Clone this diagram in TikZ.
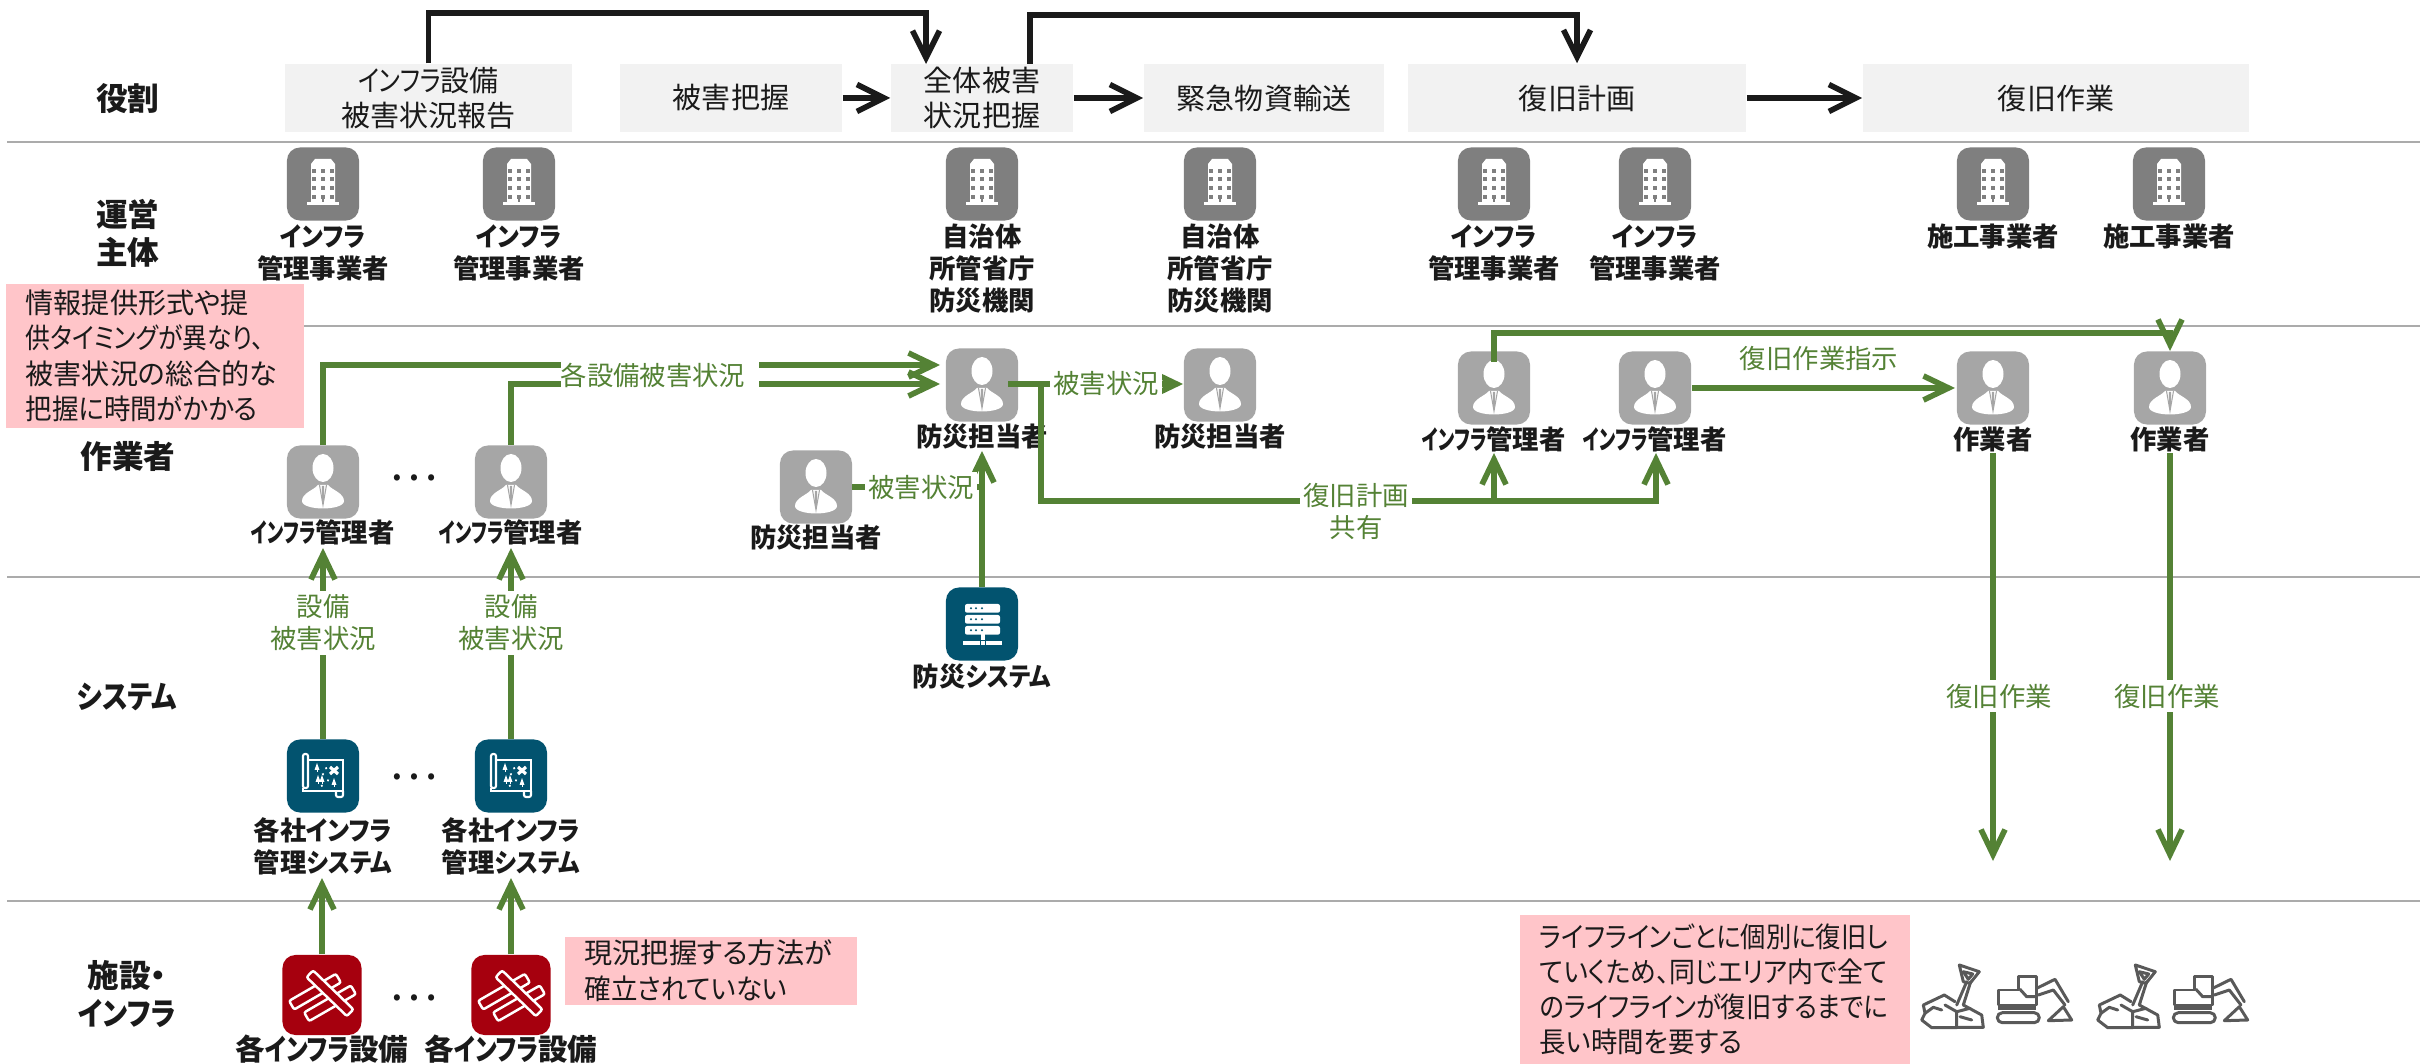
\documentclass[tikz,border=0pt]{standalone}
\usepackage{fontspec}
\setmainfont{Noto Sans CJK JP}[RawFeature=+palt]
\usetikzlibrary{arrows.meta}

% Narrower setting for kana runs
\newcommand{\kana}[2][0.86]{{\addfontfeature{FakeStretch=#1}#2}}

\definecolor{rolegray}{HTML}{F2F2F2}
\definecolor{rulegray}{HTML}{ABABAB}
\definecolor{buildgray}{HTML}{7F7F7F}
\definecolor{persongray}{HTML}{A6A6A6}
\definecolor{teal}{HTML}{02536F}
\definecolor{infrared}{HTML}{A6000E}
\definecolor{notepink}{HTML}{FFC5C9}
\definecolor{flowgreen}{HTML}{548235}
\definecolor{inkblack}{HTML}{1A1A1A}
\definecolor{machinegray}{HTML}{595959}

\tikzset{
    rowrule/.style={rulegray, line width=0.6pt},
    rowtitle/.style={font=\fontsize{9}{10.8}\selectfont\bfseries, text=inkblack, align=center, inner sep=0pt},
    rolebox/.style={fill=rolegray, text=inkblack, font=\fontsize{8.25}{10}\selectfont, align=center, inner sep=0pt, minimum height=0.68cm},
    iconbox/.style={rounded corners=0.13cm, minimum width=0.72cm, minimum height=0.73cm, inner sep=0pt},
    buildingbox/.style={iconbox, fill=buildgray},
    personbox/.style={iconbox, fill=persongray},
    systembox/.style={iconbox, fill=teal},
    assetbox/.style={iconbox, fill=infrared, minimum width=0.79cm, minimum height=0.80cm},
    iconlabel/.style={font=\fontsize{7.5}{9.1}\selectfont\bfseries, text=inkblack, align=center, inner sep=0pt},
    assetlabel/.style={font=\fontsize{8.4}{9.1}\selectfont\bfseries, text=inkblack, align=center, inner sep=0pt},
    flowlabel/.style={font=\fontsize{7.5}{9.1}\selectfont, text=flowgreen, align=center, fill=white, inner sep=1pt},
    notebox/.style={fill=notepink, text=inkblack, font=\fontsize{8}{10}\selectfont, align=left, anchor=north west, inner ysep=0pt, inner xsep=0.2cm},
    dotsmark/.style={font=\fontsize{13}{13}\selectfont, text=inkblack, inner sep=0pt},
    rolearrow/.style={inkblack, line width=1.6pt, -{Straight Barb[length=0.27cm, width=0.27cm]}},
    flowline/.style={flowgreen, line width=1.6pt},
    flowarrow/.style={flowline, -{Straight Barb[length=0.25cm, width=0.24cm]}},
    % White glyphs that sit on the rounded icon squares
    buildingglyph/.pic={
        \fill[white] (-12,20) -- (-12,-20) -- (-8,-25) -- (8,-25) -- (12,-20) -- (12,20) -- cycle;
        \fill[white] (-16,18) rectangle (16,21);
        \foreach \wy in {-13,-5,4,13} {
            \foreach \wx in {-9,0,9} {
                \fill[buildgray] (\wx-1.6,\wy-1.6) rectangle (\wx+1.6,\wy+1.6);
            }
        }
        \fill[buildgray] (-1.4,11) rectangle (1.4,18);
    },
    personglyph/.pic={
        \fill[white] (0,-14) ellipse (10.5 and 14);
        \fill[white] (-5,3) .. controls (-9,8) and (-21,11) .. (-21,19) .. controls (-21,24) and (-10,26.5) .. (0,26.5)
            .. controls (10,26.5) and (21,24) .. (21,19) .. controls (21,11) and (9,8) .. (5,3) -- cycle;
        \draw[persongray, line width=0.3pt] (-3.5,3) -- (0,23) -- (3.5,3);
        \fill[persongray] (-1.2,4) -- (1.2,4) -- (0.8,18) -- (0,21) -- (-0.8,18) -- cycle;
    },
    mapglyph/.pic={
        \draw[white, line width=0.6pt, rounded corners=0.02cm] (-20,-22) rectangle (-15,12);
        \draw[white, line width=0.6pt] (-15,-16) -- (20,-16) -- (20,15) -- (-20,15) -- (-20,12);
        \draw[white, line width=0.6pt, rounded corners=0.02cm] (13,15) -- (13,21) -- (20,21) -- (20,15);
        \foreach \tx/\ty in {-6/-9, -5/3, -1/3, 11/6} {
            \fill[white] (\tx-2.5,\ty+3) -- (\tx,\ty-4) -- (\tx+2.5,\ty+3) -- cycle;
            \fill[white] (\tx-0.5,\ty+3) rectangle (\tx+0.5,\ty+5);
        }
        \draw[white, line width=0.9pt] (7,-9) -- (15,-2) (15,-9) -- (7,-2);
        \draw[white, line width=0.5pt, dotted] (4,-8) .. controls (-4,-6) and (-2,-2) .. (3,0) .. controls (8,3) and (6,10) .. (-8,11);
    },
    serverglyph/.pic={
        \foreach \ry in {-20,-9,2} {
            \fill[white, rounded corners=0.02cm] (-17,\ry) rectangle (18,\ry+8.7);
            \foreach \dx in {-11,-6,0} {
                \fill[teal] (\dx,\ry+4.3) circle (1.1);
            }
        }
        \fill[white] (-1,10) rectangle (3,16);
        \fill[white] (-19,17) rectangle (-2,21);
        \fill[white] (-1,17) rectangle (3,21);
        \fill[white] (4,17) rectangle (20,21);
    },
    assetglyph/.pic={
        \begin{scope}[shift={(-7,-3.3)}, rotate=30]
            \draw[white, fill=infrared, line width=0.7pt, rounded corners=0.02cm] (-27,-5) rectangle (27,5);
        \end{scope}
        \begin{scope}[shift={(8,8.3)}, rotate=30]
            \draw[white, fill=infrared, line width=0.7pt, rounded corners=0.02cm] (-27,-5) rectangle (27,5);
        \end{scope}
        \begin{scope}[shift={(8,-1.7)}, rotate=-44]
            \draw[white, fill=infrared, line width=0.7pt, rounded corners=0.02cm] (-28,-4.7) rectangle (28,4.7);
        \end{scope}
    },
    machineglyph/.pic={
        \begin{scope}[machinegray, line width=0.85pt, line join=round, line cap=round]
            % Shovel in rubble
            \draw (55,51.7) -- (44.3,45) -- (23.3,55) -- (25,63.3) -- (21.7,70) -- (31.7,77.7) -- (83.3,77.3) -- (81.7,65) -- (63.3,55);
            \draw (25,63.3) -- (33.3,57.3) -- (41.7,60);
            \draw (45,55) -- (56.7,61.7) -- (56.7,77.3);
            \draw (56.7,61.7) -- (70,58.3);
            \draw (60,66.7) -- (71.7,70);
            \draw (56.7,55) -- (66.7,31.7);
            \draw (63.3,55) -- (70.7,31.7);
            \draw (59.3,15) -- (79.3,21.7) -- (70,33.3) -- (63.3,31.7) -- cycle;
            \draw (63.3,21.7) -- (72.7,24) -- (68.3,29.3) -- cycle;
            % Excavator
            \draw (98.3,40) -- (118.3,40) -- (118.3,26.7) -- (136,26.7) -- (136,55) -- (98.3,55) -- cycle;
            \draw (120,39.3) -- (126.7,46.7) -- (136,46.7);
            \fill (98.3,55) rectangle (136,60);
            \draw[rounded corners=0.05cm] (97.3,62.7) rectangle (139.3,72.7);
            \draw (136.7,38.3) -- (155,29.3) -- (168.3,51.7);
            \draw (138.3,45) -- (153.3,40) -- (165,55);
            \draw (148.3,70.7) -- (163.3,56.7) -- (171.7,70) -- cycle;
        \end{scope}
    }
}

\begin{document}
\begin{tikzpicture}[x=0.01cm, y=-0.01cm]
    \useasboundingbox (0,0) rectangle (2420,1064);

    % Rows
    \draw[rowrule] (7,142) -- (2420,142);
    \draw[rowrule] (7,326) -- (2420,326);
    \draw[rowrule] (7,577) -- (2420,577);
    \draw[rowrule] (7,901) -- (2420,901);

    \node[rowtitle] (rowrole) at (128,99) {役割};
    \node[rowtitle] (rowoperator) at (128,233) {運営\\主体};
    \node[rowtitle] (rowworker) at (128,456) {作業者};
    \node[rowtitle] (rowsystem) at (127,697) {\kana{システム}};
    \node[rowtitle] (rowasset) at (127,994) {施設・\\\kana{インフラ}};

    % Role boxes
    \node[rolebox, minimum width=2.87cm] (rolereport) at (428.5,98) {\kana[0.83]{インフラ}設備\\被害状況報告};
    \node[rolebox, minimum width=2.22cm] (rolesurvey) at (731,98) {被害把握};
    \node[rolebox, minimum width=1.82cm] (rolewhole) at (982,98) {全体被害\\状況把握};
    \node[rolebox, minimum width=2.40cm] (rolesupply) at (1264,98) {緊急物資輸送};
    \node[rolebox, minimum width=3.38cm] (roleplan) at (1577,98) {復旧計画};
    \node[rolebox, minimum width=3.86cm] (rolework) at (2056,98) {復旧作業};

    \coordinate (wholetop) at (926,64);
    \coordinate (wholeout) at (1030,64);
    \coordinate (reportrail) at (428.5,13);
    \coordinate (wholerail) at (1030,15);
    \coordinate (planrail) at (1577,15);
    \coordinate (wholeentry) at (926,13);
    \draw[rolearrow] (rolereport.north) -- (reportrail) -- (wholeentry) -- (wholetop);
    \draw[rolearrow] (wholeout) -- (wholerail) -- (planrail) -- (roleplan.north);
    \draw[rolearrow] (rolesurvey) -- (rolewhole);
    \draw[rolearrow] (rolewhole) -- (rolesupply);
    \draw[rolearrow] (roleplan) -- (rolework);

    % Operators
    \node[buildingbox] (opinfraA) at (323,184) {};
    \node[buildingbox] (opinfraB) at (519,184) {};
    \node[buildingbox] (opcityA) at (982,184) {};
    \node[buildingbox] (opcityB) at (1220,184) {};
    \node[buildingbox] (opinfraC) at (1494,184) {};
    \node[buildingbox] (opinfraD) at (1655,184) {};
    \node[buildingbox] (opbuildA) at (1993,184) {};
    \node[buildingbox] (opbuildB) at (2169,184) {};
    \foreach \op in {opinfraA,opinfraB,opcityA,opcityB,opinfraC,opinfraD,opbuildA,opbuildB} {
        \pic at (\op) {buildingglyph};
    }
    \node[iconlabel] (opinfraAtext) at (323,252.5) {\kana[0.9]{インフラ}\\管理事業者};
    \node[iconlabel] (opinfraBtext) at (519,252.5) {\kana[0.9]{インフラ}\\管理事業者};
    \node[iconlabel] (opcityAtext) at (982,268.5) {自治体\\所管省庁\\防災機関};
    \node[iconlabel] (opcityBtext) at (1220,268.5) {自治体\\所管省庁\\防災機関};
    \node[iconlabel] (opinfraCtext) at (1494,252.5) {\kana[0.9]{インフラ}\\管理事業者};
    \node[iconlabel] (opinfraDtext) at (1655,252.5) {\kana[0.9]{インフラ}\\管理事業者};
    \node[iconlabel] (opbuildAtext) at (1993,237) {施工事業者};
    \node[iconlabel] (opbuildBtext) at (2169,237) {施工事業者};

    % Workers
    \node[personbox] (managerA) at (323,482) {};
    \node[personbox] (managerB) at (511,482) {};
    \node[personbox] (disasterA) at (982,385) {};
    \node[personbox] (disasterB) at (816,487) {};
    \node[personbox] (disasterC) at (1220,385) {};
    \node[personbox] (managerC) at (1494,388) {};
    \node[personbox] (managerD) at (1655,388) {};
    \node[personbox] (crewA) at (1993,388) {};
    \node[personbox] (crewB) at (2170,388) {};
    \foreach \who in {managerA,managerB,disasterA,disasterB,disasterC,managerC,managerD,crewA,crewB} {
        \pic at (\who) {personglyph};
    }
    \node[iconlabel] (managerAtext) at (323,532) {\kana[0.68]{インフラ}管理者};
    \node[iconlabel] (managerBtext) at (511,532) {\kana[0.68]{インフラ}管理者};
    \node[iconlabel] (disasterAtext) at (982,437) {防災担当者};
    \node[iconlabel] (disasterBtext) at (816,538) {防災担当者};
    \node[iconlabel] (disasterCtext) at (1220,437) {防災担当者};
    \node[iconlabel] (managerCtext) at (1494,439) {\kana[0.68]{インフラ}管理者};
    \node[iconlabel] (managerDtext) at (1655,439) {\kana[0.68]{インフラ}管理者};
    \node[iconlabel] (crewAtext) at (1993,439) {作業者};
    \node[iconlabel] (crewBtext) at (2170,439) {作業者};
    \node[dotsmark] (dotsworker) at (414,478) {…};

    % Systems
    \node[systembox] (bousaisys) at (982,624) {};
    \pic at (bousaisys) {serverglyph};
    \node[iconlabel] (bousaisystext) at (982,677) {防災\kana[0.88]{システム}};
    \node[systembox] (mapsysA) at (323,776) {};
    \node[systembox] (mapsysB) at (511,776) {};
    \pic at (mapsysA) {mapglyph};
    \pic at (mapsysB) {mapglyph};
    \node[iconlabel] (mapsysAtext) at (323,846) {各社\kana[0.91]{インフラ}\\管理\kana[0.88]{システム}};
    \node[iconlabel] (mapsysBtext) at (511,846) {各社\kana[0.91]{インフラ}\\管理\kana[0.88]{システム}};
    \node[dotsmark] (dotssystem) at (414,777) {…};

    % Facilities
    \node[assetbox] (assetA) at (322,995) {};
    \node[assetbox] (assetB) at (511,995) {};
    \pic at (assetA) {assetglyph};
    \pic at (assetB) {assetglyph};
    \node[assetlabel] (assetAtext) at (322,1049) {各\kana[0.8]{インフラ}設備};
    \node[assetlabel] (assetBtext) at (511,1049) {各\kana[0.8]{インフラ}設備};
    \node[dotsmark] (dotsasset) at (414,998) {…};
    \pic at (1900,950) {machineglyph};
    \pic at (2076,950) {machineglyph};

    % Flows between the workers
    \coordinate (gapAleft) at (561,365);
    \coordinate (gapAright) at (759,365);
    \coordinate (gapBleft) at (561,384);
    \coordinate (gapBright) at (759,384);
    \coordinate (entryA) at (940,365);
    \coordinate (entryB) at (940,384);
    \draw[flowline] (managerA.north) |- (gapAleft);
    \draw[flowline] (managerB.north) |- (gapBleft);
    \draw[flowarrow] (gapAright) -- (entryA);
    \draw[flowarrow] (gapBright) -- (entryB);
    \node[flowlabel, fill=none] (flowreports) at (653,375) {各設備被害状況};

    \coordinate (disasterout) at (1008,384);
    \coordinate (disasterCentry) at (1183,384);
    \coordinate (branchdown) at (1041,384);
    \coordinate (planleft) at (1041,501);
    \coordinate (planbranch) at (1494,501);
    \coordinate (planright) at (1656,501);
    \coordinate (managerCentry) at (1494,453);
    \coordinate (managerDentry) at (1656,453);
    \draw[flowarrow] (disasterout) -- (disasterCentry);
    \draw[flowarrow] (branchdown) -- (planleft) -- (planright) -- (managerDentry);
    \draw[flowarrow] (planbranch) -- (managerCentry);
    \node[flowlabel] (flowdamageC) at (1106,384) {被害状況};
    \node[flowlabel] (flowplan) at (1356,511) {復旧計画\\共有};

    \coordinate (managerCout) at (1494,362);
    \coordinate (orderleft) at (1494,333);
    \coordinate (orderright) at (2170,333);
    \coordinate (crewBentry) at (2170,351);
    \coordinate (managerDout) at (1692,388);
    \coordinate (crewAentry) at (1955,388);
    \draw[flowarrow] (managerCout) -- (orderleft) -- (orderright) -- (crewBentry);
    \draw[flowarrow] (managerDout) -- (crewAentry);
    \node[flowlabel, fill=none] (floworder) at (1819,358) {復旧作業指示};

    % Flows into the disaster staff
    \coordinate (disasterBout) at (852,487);
    \coordinate (disasterjoin) at (982,487);
    \coordinate (disasterAentry) at (982,451);
    \draw[flowline] (disasterBout) -- (disasterjoin);
    \draw[flowarrow] (bousaisys.north) -- (disasterAentry);
    \node[flowlabel] (flowdamageB) at (921,488) {被害状況};

    % Flows out of the systems and facilities
    \coordinate (managerAentry) at (323,548);
    \coordinate (managerBentry) at (511,548);
    \draw[flowarrow] (mapsysA.north) -- (managerAentry);
    \draw[flowarrow] (mapsysB.north) -- (managerBentry);
    \node[flowlabel] (flowassetA) at (323,623) {設備\\被害状況};
    \node[flowlabel] (flowassetB) at (511,623) {設備\\被害状況};

    \coordinate (mapsysAentry) at (322,878);
    \coordinate (mapsysBentry) at (511,878);
    \draw[flowarrow] (assetA.north) -- (mapsysAentry);
    \draw[flowarrow] (assetB.north) -- (mapsysBentry);

    % Repair work going down
    \coordinate (crewAout) at (1993,453);
    \coordinate (crewBout) at (2170,453);
    \coordinate (siteA) at (1993,861);
    \coordinate (siteB) at (2170,861);
    \draw[flowarrow] (crewAout) -- (siteA);
    \draw[flowarrow] (crewBout) -- (siteB);
    \node[flowlabel] (flowrepairA) at (1999,696) {復旧作業};
    \node[flowlabel] (flowrepairB) at (2167,696) {復旧作業};

    % Notes
    \node[notebox, text width=2.58cm, minimum height=1.44cm] (notereport) at (5,283) {情報提供形式や提\\\kana[0.88]{供タイミングが異なり、}\\被害状況の総合的な\\\kana[0.94]{把握に時間がかかる}};
    \node[notebox, text width=2.52cm, minimum height=0.68cm] (notesurvey) at (564,936) {現況把握する方法が\\\kana[0.94]{確立されていない}};
    \node[notebox, text width=3.50cm, minimum height=1.49cm] (noterepair) at (1519,914) {\kana[0.9]{ライフラインごとに個別に復旧し}\\\kana[0.92]{ていくため、同じエリア内で全て}\\\kana[0.9]{のライフラインが復旧するまでに}\\\kana[0.94]{長い時間を要する}};
\end{tikzpicture}
\end{document}
